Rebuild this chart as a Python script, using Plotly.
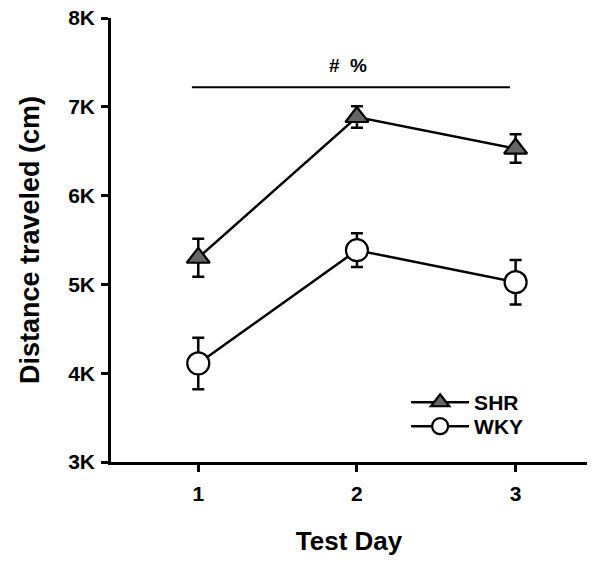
import plotly.graph_objects as go

days = [1, 2, 3]
shr_mean = [5300, 6885, 6530]
shr_sem = [215, 120, 160]
wky_mean = [4110, 5385, 5025]
wky_sem = [290, 190, 250]

y_tickvals = [3000, 4000, 5000, 6000, 7000, 8000]
y_ticktext = ["3K", "4K", "5K", "6K", "7K", "8K"]
x_tickvals = [1, 2, 3]
x_ticktext = ["1", "2", "3"]

sig_label = "#  %"
sig_x = [0.96, 2.965]
sig_y = 7220

FONT = "Liberation Sans, Arial, sans-serif"

fig = go.Figure()
fig.add_trace(go.Scatter(
    x=days, y=shr_mean, name="SHR", mode="lines+markers", legend="legend",
    line=dict(color="black", width=2.5),
    marker=dict(symbol="triangle-up", size=20, color="#666666",
                line=dict(color="black", width=2.2)),
    error_y=dict(type="data", array=shr_sem, visible=True,
                 color="black", thickness=2.5, width=6),
))
fig.add_trace(go.Scatter(
    x=days, y=wky_mean, name="WKY", mode="lines+markers", legend="legend2",
    line=dict(color="black", width=2.5),
    marker=dict(symbol="circle", size=22, color="white",
                line=dict(color="black", width=2.2)),
    error_y=dict(type="data", array=wky_sem, visible=True,
                 color="black", thickness=2.5, width=6),
))

fig.add_shape(type="line", xref="x", yref="y",
              x0=sig_x[0], x1=sig_x[1], y0=sig_y, y1=sig_y,
              line=dict(color="black", width=2))
fig.add_annotation(x=sum(sig_x) / 2 - 0.02, y=7470, xref="x", yref="y",
                   text=sig_label, showarrow=False,
                   font=dict(family=FONT, size=19, color="black", weight="bold"))

legend_font = dict(family=FONT, size=21, color="black", weight="bold")
fig.update_layout(
    width=600, height=568,
    margin=dict(l=111, r=13, t=18, b=106),
    paper_bgcolor="white", plot_bgcolor="white",
    font=dict(family=FONT, color="black", weight="bold"),
    showlegend=True,
    legend=dict(x=0.62, y=0.18, xanchor="left", yanchor="top",
                bgcolor="rgba(0,0,0,0)", itemwidth=58, font=legend_font),
    legend2=dict(x=0.62, y=0.126, xanchor="left", yanchor="top",
                 bgcolor="rgba(0,0,0,0)", itemwidth=58, font=legend_font),
    xaxis=dict(range=[0.45, 3.45], tickvals=x_tickvals, ticktext=x_ticktext,
               automargin=False, ticklabeloverflow="allow",
               showgrid=False, zeroline=False, showline=True,
               linecolor="black", linewidth=2.5,
               ticks="outside", ticklen=7, tickwidth=2.5, tickcolor="black",
               ticklabelstandoff=4,
               tickfont=dict(family=FONT, size=21, color="black", weight="bold"),
               title=dict(text="Test Day", standoff=28,
                          font=dict(family=FONT, size=26, color="black", weight="bold"))),
    yaxis=dict(range=[3000, 8000], tickvals=y_tickvals, ticktext=y_ticktext,
               automargin=False, ticklabeloverflow="allow",
               showgrid=False, zeroline=False, showline=True,
               linecolor="black", linewidth=2.5,
               ticks="outside", ticklen=7, tickwidth=2.5, tickcolor="black",
               ticklabelstandoff=2,
               tickfont=dict(family=FONT, size=21, color="black", weight="bold"),
               title=dict(text="Distance traveled (cm)", standoff=21,
                          font=dict(family=FONT, size=27, color="black", weight="bold"))),
)

fig.write_html("out.html", config={"displayModeBar": False},
               post_script="document.body.style.margin='0';")
